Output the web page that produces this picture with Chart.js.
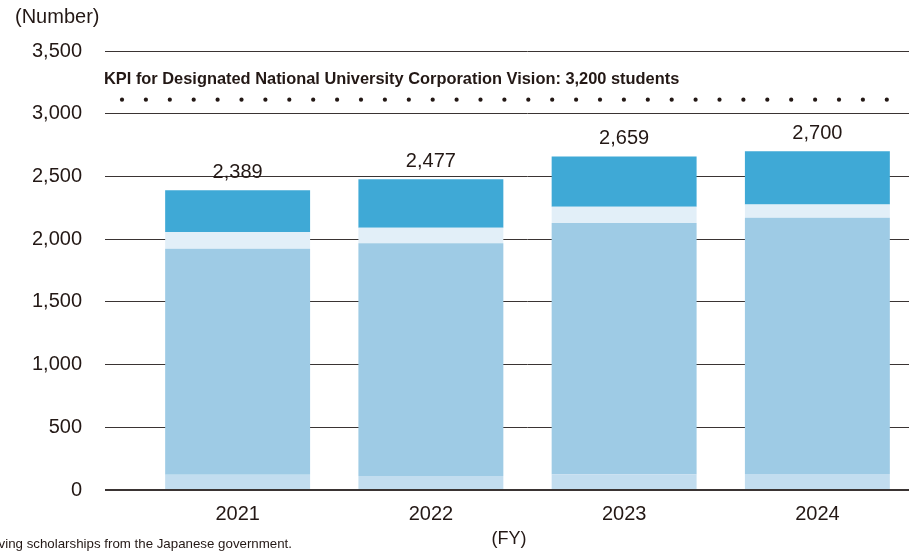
<!DOCTYPE html>
<html>
<head>
<meta charset="utf-8">
<script src="https://cdn.jsdelivr.net/npm/chart.js@4/dist/chart.umd.min.js"></script>
<style>
  html, body { margin: 0; padding: 0; background: #fff; overflow: hidden; }
  #wrap { width: 914px; height: 552px; position: relative; }
</style>
</head>
<body>
<div id="wrap"><canvas id="chart"></canvas></div>
<script>
// Data
const years = ['2021', '2022', '2023', '2024'];
const baseValues = [122, 112, 125, 128];        // bottom pale segment
const mainValues = [1801, 1856, 2003, 2043];    // large mid-blue segment
const thinValues = [133, 123, 131, 106];        // thin very light band
const topValues = [333, 386, 400, 423];         // dark blue top segment
const totals = [2389, 2477, 2659, 2700];
const kpiValue = 3200;
const kpiLabel = 'KPI for Designated National University Corporation Vision: 3,200 students';
const yTicks = [0, 500, 1000, 1500, 2000, 2500, 3000, 3500];

const FONT = '"Liberation Sans", Arial, sans-serif';
const TEXT = '#231815';

// extra text + KPI dots + totals
const overlay = {
  id: 'overlay',
  beforeDatasetsDraw(chart) {
    const { ctx, chartArea, scales } = chart;
    // the original sits the dotted row a little under the 3,200 mark
    const y = scales.y.getPixelForValue(kpiValue) + 11;
    ctx.save();
    ctx.fillStyle = TEXT;
    const start = chartArea.left - 19;
    for (let x = start; x <= 895; x += 23.9) {
      ctx.beginPath();
      ctx.arc(x, y, 2.1, 0, Math.PI * 2);
      ctx.fill();
    }
    ctx.font = 'bold 16.4px ' + FONT;
    ctx.textBaseline = 'middle';
    ctx.textAlign = 'left';
    ctx.fillText(kpiLabel, chartArea.left - 37, y - 20);
    ctx.restore();
  },
  afterDatasetsDraw(chart) {
    const { ctx } = chart;
    const meta = chart.getDatasetMeta(3);
    ctx.save();
    ctx.fillStyle = TEXT;
    ctx.font = '20px ' + FONT;
    ctx.textAlign = 'center';
    ctx.textBaseline = 'middle';
    meta.data.forEach((bar, i) => {
      ctx.fillText(totals[i].toLocaleString('en-US'), bar.x, bar.y - 18);
    });
    // axis unit labels
    ctx.textAlign = 'left';
    ctx.fillText('(Number)', 15, 17);
    ctx.font = '18px ' + FONT;
    ctx.textAlign = 'center';
    ctx.fillText('(FY)', 509, 539);
    // footnote (cut off at the left edge in the original)
    ctx.font = '13.3px ' + FONT;
    ctx.textAlign = 'right';
    ctx.fillText('receiving scholarships from the Japanese government.', 292, 544);
    ctx.restore();
  }
};

const ctx = document.getElementById('chart').getContext('2d');
new Chart(ctx, {
  type: 'bar',
  data: {
    labels: years,
    datasets: [
      { data: baseValues, backgroundColor: '#c2ddef' },
      { data: mainValues, backgroundColor: '#9ecbe5' },
      { data: thinValues, backgroundColor: '#e2eff8' },
      { data: topValues, backgroundColor: '#3fa9d6' }
    ]
  },
  options: {
    responsive: true,
    maintainAspectRatio: false,
    animation: false,
    layout: { padding: { top: 51, right: 0, bottom: 22, left: 0 } },
    datasets: {
      bar: { barPercentage: 0.75, categoryPercentage: 1, borderWidth: 0 }
    },
    plugins: {
      legend: { display: false },
      tooltip: { enabled: false }
    },
    scales: {
      x: {
        stacked: true,
        grid: { display: false },
        border: { display: false },
        ticks: { color: TEXT, font: { family: FONT, size: 20 }, padding: 4 }
      },
      y: {
        stacked: true,
        min: 0,
        max: 3500,
        afterBuildTicks(axis) {
          axis.ticks = yTicks.map(v => ({ value: v }));
        },
        border: { display: false },
        grid: {
          color: '#3a3433',
          lineWidth: c => (c.tick && c.tick.value === 0 ? 2 : 1),
          drawTicks: true,
          tickLength: 36
        },
        ticks: {
          color: TEXT,
          font: { family: FONT, size: 20 },
          padding: 23,
          callback: v => v.toLocaleString('en-US')
        },
        afterFit(axis) { axis.width = 141; }
      }
    }
  },
  plugins: [overlay]
});
</script>
</body>
</html>
